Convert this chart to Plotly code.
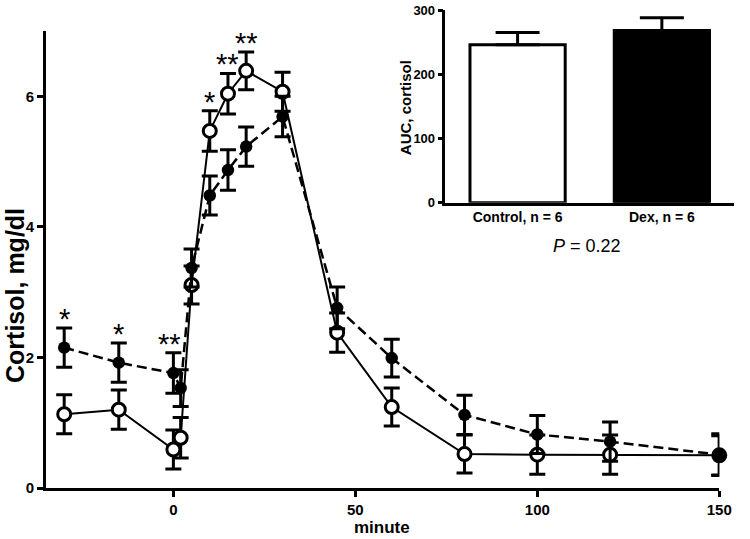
import plotly.graph_objects as go

# ---- data ----
minutes = [-30, -15, 0, 2, 5, 10, 15, 20, 30, 45, 60, 80, 100, 120, 150]
control = [1.13, 1.20, 0.59, 0.77, 3.11, 5.47, 6.04, 6.39, 6.07, 2.38, 1.24, 0.52, 0.51, 0.51, 0.50]
control_se = [0.30, 0.30, 0.30, 0.31, 0.29, 0.31, 0.31, 0.29, 0.30, 0.30, 0.29, 0.29, 0.30, 0.30, 0.30]
dex = [2.15, 1.92, 1.76, 1.53, 3.37, 4.48, 4.87, 5.23, 5.69, 2.76, 1.99, 1.12, 0.82, 0.71, 0.51]
dex_se = [0.30, 0.30, 0.31, 0.28, 0.29, 0.30, 0.31, 0.30, 0.31, 0.32, 0.29, 0.30, 0.29, 0.30, 0.32]

sig_minutes = [-30, -15, 0, 10, 15, 20]
sig_labels = ["*", "*", "**", "*", "**", "**"]

auc_groups = ["Control, n = 6", "Dex, n = 6"]
auc_values = [246, 268]
auc_se = [19, 20]
p_text = "<i>P</i> = 0.22"

FONT = "Liberation Sans, Arial, sans-serif"

fig = go.Figure()

fig.add_trace(go.Scatter(
    x=minutes, y=control, mode="lines+markers", cliponaxis=False,
    line=dict(color="black", width=2),
    marker=dict(symbol="circle", size=13, color="white", line=dict(color="black", width=3)),
    error_y=dict(type="data", array=control_se, color="black", thickness=3, width=8),
    showlegend=False, xaxis="x", yaxis="y"))

fig.add_trace(go.Scatter(
    x=minutes, y=dex, mode="lines+markers", cliponaxis=False,
    line=dict(color="black", width=2.5, dash="10px,5px"),
    marker=dict(symbol="circle", size=12.5, color="black", line=dict(color="black", width=0)),
    error_y=dict(type="data", array=dex_se, color="black", thickness=3, width=8),
    showlegend=False, xaxis="x", yaxis="y"))

# inset bar chart
fig.add_trace(go.Bar(
    x=auc_groups, y=auc_values, width=0.66,
    marker=dict(color=["white", "black"], line=dict(color="black", width=3)),
    error_y=dict(type="data", symmetric=False, array=auc_se, arrayminus=[0, 0],
                 color="black", thickness=3, width=22),
    showlegend=False, xaxis="x2", yaxis="y2"))

annotations = []
idx = {m: i for i, m in enumerate(minutes)}
for m, lab in zip(sig_minutes, sig_labels):
    i = idx[m]
    top = max(control[i] + control_se[i], dex[i] + dex_se[i])
    annotations.append(dict(
        x=m - (1.2 if m == 0 else 0), y=top, xref="x", yref="y", text=lab, showarrow=False,
        font=dict(family=FONT, size=29, color="black"), xanchor="center", yanchor="bottom",
        yshift=-9))

annotations += [
    dict(x=-0.0442, y=0.403, xref="paper", yref="paper", text="<b>Cortisol, mg/dl</b>",
         textangle=-90, showarrow=False, font=dict(family=FONT, size=25, color="black"),
         xanchor="center", yanchor="middle"),
    dict(x=0.489, y=-0.0835, xref="paper", yref="paper", text="<b>minute</b>",
         showarrow=False, font=dict(family=FONT, size=17, color="black"),
         xanchor="center", yanchor="middle"),
    dict(x=0.5217, y=0.7965, xref="paper", yref="paper", text="<b>AUC, cortisol</b>",
         textangle=-90, showarrow=False, font=dict(family=FONT, size=15, color="black"),
         xanchor="center", yanchor="middle"),
    dict(x=0.786, y=0.507, xref="paper", yref="paper", text=p_text,
         showarrow=False, font=dict(family=FONT, size=18, color="black"),
         xanchor="center", yanchor="middle"),
]

axis_common = dict(showline=True, linecolor="black", showgrid=False, zeroline=False,
                   ticks="outside", tickcolor="black", mirror=False)

fig.update_layout(
    width=750, height=539,
    margin=dict(l=46, r=3, t=9, b=51),
    paper_bgcolor="white", plot_bgcolor="white",
    font=dict(family=FONT, color="black"),
    xaxis=dict(**axis_common, domain=[0, 0.9786], range=[-35, 150], linewidth=3,
               tickvals=[0, 50, 100, 150], ticktext=["<b>0</b>", "<b>50</b>", "<b>100</b>", "<b>150</b>"],
               ticklen=6, tickwidth=2.5, tickfont=dict(size=15)),
    yaxis=dict(**axis_common, domain=[0, 0.956], range=[0, 7], linewidth=3,
               tickvals=[0, 2, 4, 6], ticktext=["<b>0</b>", "<b>2</b>", "<b>4</b>", "<b>6</b>"],
               ticklen=6, tickwidth=2.5, tickfont=dict(size=15)),
    xaxis2=dict(showline=True, linecolor="black", linewidth=2.5, showgrid=False, zeroline=False,
                domain=[0.5806, 1.0], anchor="y2", range=[-0.5, 1.5], ticks="",
                tickvals=auc_groups, ticktext=["<b>" + g + "</b>" for g in auc_groups],
                tickfont=dict(size=14)),
    yaxis2=dict(**{k: v for k, v in axis_common.items()}, linewidth=2.5,
                domain=[0.597, 1.0], anchor="x2", range=[0, 300],
                tickvals=[0, 100, 200, 300], ticktext=["<b>0</b>", "<b>100</b>", "<b>200</b>", "<b>300</b>"],
                ticklen=5, tickwidth=2.5, tickfont=dict(size=13)),
    annotations=annotations,
    bargap=0.34,
)

fig.write_html("out.html", config={"displayModeBar": False},
               post_script="document.body.style.margin='0';document.body.style.padding='0';")
